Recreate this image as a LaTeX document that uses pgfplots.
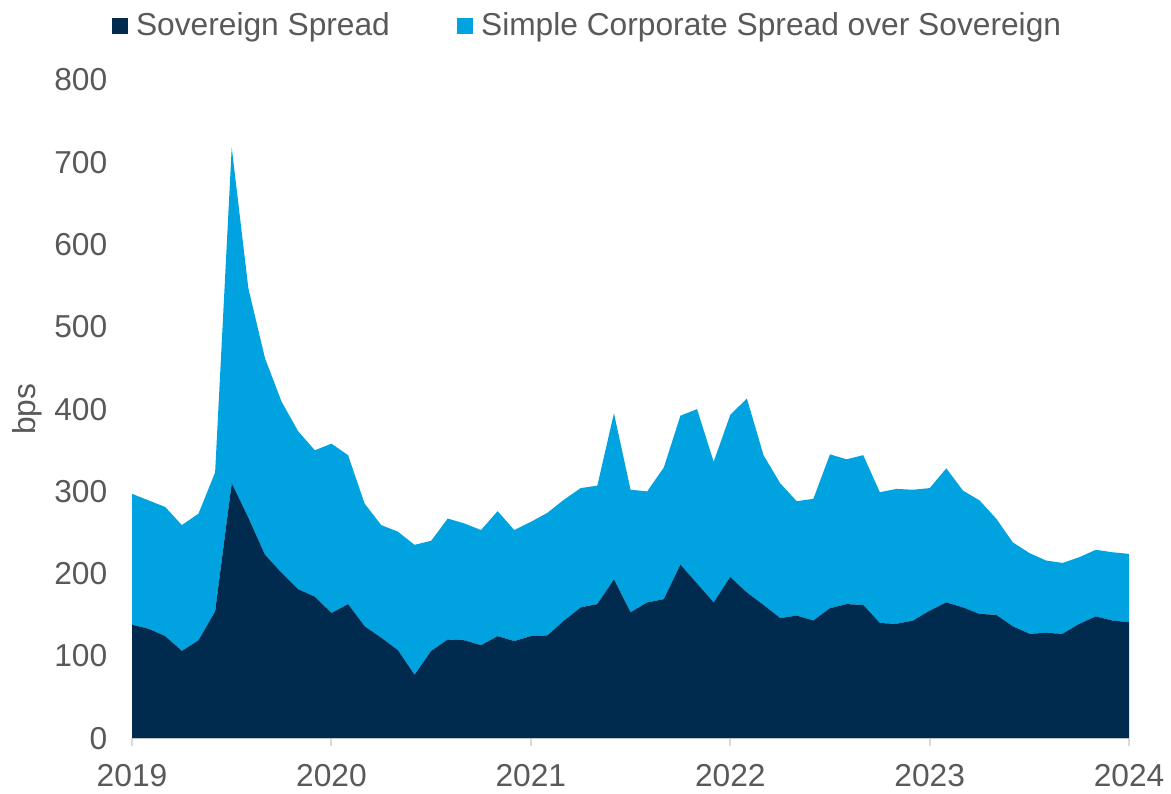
\documentclass[border=0pt]{standalone}
\usepackage{pgfplots}
\pgfplotsset{compat=1.18}
\usepackage{pgfplotstable}
\usepackage{fontspec}
\setmainfont{Liberation Sans}

\definecolor{sovblue}{HTML}{002B4F}
\definecolor{corpblue}{HTML}{00A3E0}
\definecolor{txtgray}{HTML}{595959}
\definecolor{axgray}{HTML}{D9D9D9}

% month index (0 = Jan 2019), sovereign spread, corporate spread over sovereign (bps)
\pgfplotstableread{
m sov corp
0 138 159
1 133 156
2 124 157
3 106 153
4 119 154
5 154 169
6 310 408
7 268 279
8 223 239
9 201 208
10 181 192
11 172 178
12 152 206
13 163 181
14 136 149
15 122 137
16 107 144
17 77 158
18 106 134
19 120 147
20 119 142
21 113 140
22 124 152
23 118 135
24 124 139
25 125 149
26 143 147
27 159 145
28 163 144
29 193 202
30 153 149
31 165 135
32 169 160
33 211 181
34 188 212
35 165 171
36 196 197
37 177 236
38 162 182
39 146 164
40 149 139
41 143 148
42 158 187
43 163 176
44 162 182
45 140 159
46 139 164
47 143 159
48 155 149
49 165 163
50 159 142
51 151 138
52 150 117
53 136 102
54 127 98
55 128 88
56 127 86
57 139 81
58 148 81
59 143 83
60 141 83
}\spreads

\begin{document}
\begin{tikzpicture}
\begin{axis}[
  name=ax,
  width=503pt, height=332pt, scale only axis,
  xmin=0, xmax=60, ymin=0, ymax=800,
  stack plots=y,
  axis x line*=bottom, axis y line*=left,
  y axis line style={draw=none},
  x axis line style={axgray, line width=1pt},
  xtick={0,12,...,60},
  xticklabels={2019,2020,2021,2022,2023,2024},
  ytick={0,100,...,800},
  tick align=outside,
  major tick length=4pt,
  x tick style={axgray, line width=1pt},
  y tick style={draw=none},
  /pgf/number format/assume math mode=true,
  ticklabel style={font=\fontsize{16}{19}\selectfont, text=txtgray},
  yticklabel style={xshift=-5pt},
  xticklabel style={yshift=-5.5pt},
  ylabel={bps},
  every axis y label/.style={at={(axis description cs:-0.105,0.5)}, rotate=90, anchor=center,
    font=\fontsize{16}{19}\selectfont, text=txtgray},
  legend columns=2,
  legend style={draw=none, at={(0.458,1.05)}, anchor=south,
    font=\fontsize{16}{19}\selectfont, text=txtgray,
    /tikz/every odd column/.append style={column sep=2pt},
    /tikz/every even column/.append style={column sep=32pt}},
  legend cell align=left,
  legend image code/.code={\fill[#1] (0pt,-4pt) rectangle (8pt,4pt);},
]
\addplot[fill=sovblue, draw=none] table[x=m, y=sov] {\spreads} \closedcycle;
\addlegendentry{Sovereign Spread}
\addplot[fill=corpblue, draw=none] table[x=m, y=corp] {\spreads} \closedcycle;
\addlegendentry{Simple Corporate Spread over Sovereign}
\end{axis}
% a little white margin at the left and top, as in the reference
\path ([xshift=-3pt]ax.outer west);
\path ([yshift=2.5pt]current bounding box.north);
\end{tikzpicture}
\end{document}
